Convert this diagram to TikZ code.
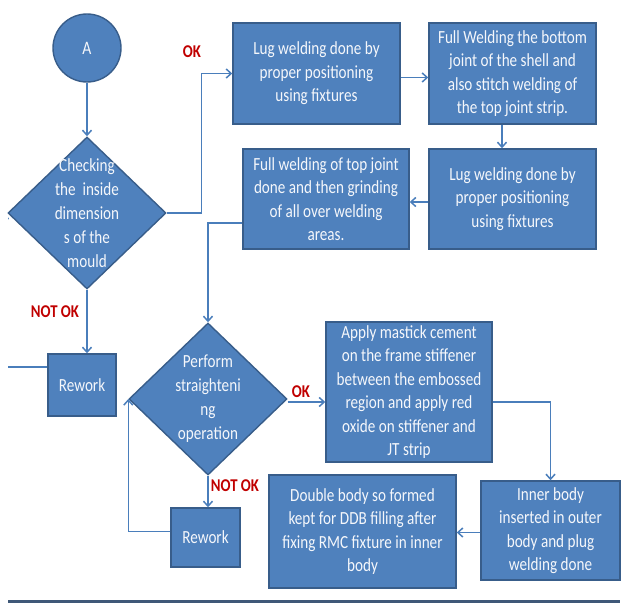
\documentclass[tikz,border=0pt]{standalone}
\usepackage{fontspec}
\setmainfont{Carlito}[FakeStretch=0.82]
\usetikzlibrary{arrows.meta, positioning, shapes.geometric}
\definecolor{boxblue}{HTML}{4F81BD}
\definecolor{boxedge}{HTML}{385D8A}
\definecolor{linkblue}{HTML}{4A7EBB}
\definecolor{okred}{HTML}{C00000}
\definecolor{rulegray}{HTML}{3F5878}

\begin{document}
\begin{tikzpicture}[x=1pt, y=-1pt,
  stepbox/.style={rectangle, draw=boxedge, line width=1.4pt, fill=boxblue,
    inner sep=0pt, align=center, text=white!94!boxblue,
    font=\fontsize{18.5}{23.5}\selectfont},
  decbox/.style={diamond, draw=boxedge, line width=1.4pt, fill=boxblue,
    inner sep=0pt, minimum width=158pt, minimum height=152pt},
  dectext/.style={align=center, text=white!94!boxblue,
    font=\fontsize{18.5}{24}\selectfont},
  okmark/.style={font=\fontsize{18}{20}\selectfont\bfseries, text=okred},
  arr/.style={-{Straight Barb[length=5pt, width=9pt]}, line width=1.5pt, linkblue}
]
\useasboundingbox (0,0) rectangle (624,604);
% === Start connector and first check ===
\node[circle, draw=boxedge, line width=1.4pt, fill=boxblue, minimum size=68pt,
  text=white!94!boxblue, font=\fontsize{19}{20}\selectfont] (start) at (87,48) {A};
\node[decbox] (d1) at (87,213) {};
\node[dectext] (d1t) at (d1.center) {Checking\\the\ \ inside\\dimension\\s of the\\mould};
% === Top row of welding steps ===
\node[stepbox, minimum width=167pt, minimum height=101pt] (b1) at (316.5,73.5)
  {Lug welding done by\\proper positioning\\using fixtures};
\node[stepbox, minimum width=167pt, minimum height=101pt] (b2) at (512.5,73.5)
  {Full Welding the bottom\\joint of the shell and\\also stitch welding of\\the top joint strip.};
% === Second row ===
\node[stepbox, minimum width=167pt, minimum height=100pt] (b3) at (512.5,199)
  {Lug welding done by\\proper positioning\\using fixtures};
\node[stepbox, minimum width=166pt, minimum height=100pt] (b4) at (326,199)
  {Full welding of top joint\\done and then grinding\\of all over welding\\areas.};
% === Rework after first check ===
\node[stepbox, minimum width=68pt, minimum height=62pt] (rw1) at (82,385) {Rework};
% === Straightening check ===
\node[decbox] (d2) at (208,399) {};
\node[dectext] (d2t) at (d2.center) {Perform\\straighteni\\ng\\operation};
\node[stepbox, minimum width=166pt, minimum height=140pt] (b5) at (409,392)
  {Apply mastick cement\\on the frame stiffener\\between the embossed\\region and apply red\\oxide on stiffener and\\JT strip};
\node[stepbox, minimum width=69pt, minimum height=59pt] (rw2) at (205.5,537.5) {Rework};
% === Bottom row ===
\node[stepbox, minimum width=139pt, minimum height=99pt] (b6) at (550.5,530.5)
  {Inner body\\inserted in outer\\body and plug\\welding done};
\node[stepbox, minimum width=187pt, minimum height=113pt] (b7) at (362.5,531.5)
  {Double body so formed\\kept for DDB filling after\\fixing RMC fixture in inner\\body};
% === OK / NOT OK marks ===
\node[okmark] (ok1) at (192,52) {OK};
\node[okmark] (nok1) at (55,312) {NOT OK};
\node[okmark] (ok2) at (301,392) {OK};
\node[okmark] (nok2) at (235,486) {NOT OK};
% === Arrows ===
\draw[arr] (start.south) -- (d1.north);
\draw[arr] (d1.east) -- ++(35,0) |- (b1.west);
\draw[arr] ([yshift=-4pt]b1.east) -- ([yshift=-4pt]b2.west);
\draw[arr] (b2.south -| 502,0) -- (b3.north -| 502,0);
\draw[arr] ([yshift=-3pt]b3.west) -- ([yshift=-3pt]b4.east);
\draw[arr] ([yshift=-24pt]b4.west) -| (d2.north);
\draw[arr] (d1.south) -- (d1.south |- rw1.north);
\begin{scope}
  \clip (8,0) rectangle (624,604);
  \coordinate (lp) at (4,367);
  \draw[arr] ([yshift=18pt]rw1.west) -- (lp) -- (lp |- d1.west);
\end{scope}
\draw[arr] ([yshift=-3pt]d2.east) -- ([yshift=-10pt]b5.west);
\draw[arr] ([yshift=-10pt]b5.east) -| (b6.north);
\draw[arr] ([yshift=-2pt]b6.west) -- ([yshift=-1pt]b7.east);
\draw[arr] (d2.south) -- (d2.south |- rw2.north);
\draw[arr] ([yshift=6pt]rw2.west) -| (d2.west);
% === Bottom rule ===
\draw[rulegray, line width=3pt] (8,601) -- (620,601);
\end{tikzpicture}
\end{document}
